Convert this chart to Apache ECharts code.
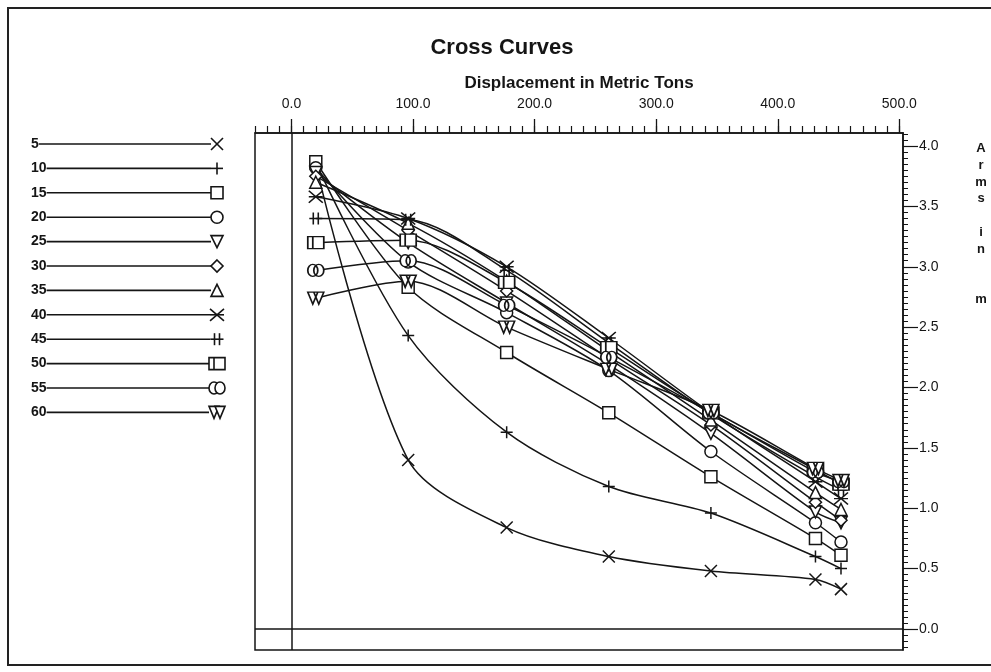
<!DOCTYPE html>
<html><head><meta charset="utf-8">
<script src="https://cdn.jsdelivr.net/npm/echarts@6/dist/echarts.min.js"></script>
<style>html,body{margin:0;padding:0;background:#fff}#c{width:991px;height:672px}</style>
</head><body><div id="c"></div>
<script>
// ---- data ----
const displacement = [20, 96, 177, 261, 345, 431, 452];
const angleNames = ['5','10','15','20','25','30','35','40','45','50','55','60'];
const arm5  = [3.85, 1.40, 0.84, 0.60, 0.48, 0.41, 0.33];
const arm10 = [3.86, 2.43, 1.63, 1.18, 0.96, 0.60, 0.50];
const arm15 = [3.87, 2.83, 2.29, 1.79, 1.26, 0.75, 0.61];
const arm20 = [3.82, 3.04, 2.62, 2.14, 1.47, 0.88, 0.72];
const arm25 = [3.78, 3.20, 2.70, 2.19, 1.62, 0.97, 0.88];
const arm30 = [3.75, 3.30, 2.80, 2.24, 1.69, 1.05, 0.90];
const arm35 = [3.70, 3.36, 2.88, 2.30, 1.73, 1.13, 0.99];
const arm40 = [3.58, 3.40, 3.00, 2.41, 1.79, 1.22, 1.08];
const arm45 = [3.40, 3.39, 2.97, 2.37, 1.78, 1.26, 1.15];
const arm50 = [3.20, 3.22, 2.87, 2.33, 1.79, 1.32, 1.20];
const arm55 = [2.97, 3.05, 2.68, 2.25, 1.79, 1.30, 1.22];
const arm60 = [2.74, 2.88, 2.50, 2.15, 1.81, 1.33, 1.23];
const xTickLabels = [0, 100, 200, 300, 400, 500];
const yTickLabels = [0, 0.5, 1.0, 1.5, 2.0, 2.5, 3.0, 3.5, 4.0];

const arms = [arm5, arm10, arm15, arm20, arm25, arm30, arm35, arm40, arm45, arm50, arm55, arm60];

// ---- marker shapes (style) ----
const shapes = [
  {d:'M0,0L12,12M12,0L0,12', w:12, h:12},
  {d:'M6,0L6,12M0,6L12,6', w:12, h:12},
  {d:'M0,0L12,0L12,12L0,12Z', w:12, h:12},
  {d:'M0,6A6,6,0,1,1,12,6A6,6,0,1,1,0,6Z', w:12, h:12},
  {d:'M0,0L12,0L6,12Z', w:12, h:12},
  {d:'M6,0L12,6L6,12L0,6Z', w:12, h:12},
  {d:'M6,0L12,12L0,12Z', w:12, h:12},
  {d:'M0,0L14,12M14,0L0,12M0,6L14,6', w:14, h:12},
  {d:'M4,0L4,12M9,0L9,12M0,6L13,6', w:13, h:12},
  {d:'M0,0L16,0L16,12L0,12ZM5,0L5,12', w:16, h:12},
  {d:'M0,6A5,6,0,1,1,10,6A5,6,0,1,1,0,6ZM6,6A5,6,0,1,1,16,6A5,6,0,1,1,6,6Z', w:16, h:12},
  {d:'M0,0L10,0L5,12ZM6,0L16,0L11,12Z', w:16, h:12}
];
// same shapes as graphic primitives for the legend (local 0..w, 0..h coords)
const L = (x1,y1,x2,y2) => ({type:'line', shape:{x1,y1,x2,y2}});
const P = pts => ({type:'polygon', shape:{points: pts}});
const E = (cx,cy,rx,ry) => ({type:'ellipse', shape:{cx,cy,rx,ry}});
const legendPrims = [
  [L(0,0,12,12), L(12,0,0,12)],
  [L(6,0,6,12), L(0,6,12,6)],
  [P([[0,0],[12,0],[12,12],[0,12]])],
  [E(6,6,6,6)],
  [P([[0,0],[12,0],[6,12]])],
  [P([[6,0],[12,6],[6,12],[0,6]])],
  [P([[6,0],[12,12],[0,12]])],
  [L(0,0,14,12), L(14,0,0,12), L(0,6,14,6)],
  [L(4,0,4,12), L(9,0,9,12), L(0,6,13,6)],
  [P([[0,0],[16,0],[16,12],[0,12]]), L(5,0,5,12)],
  [E(5,6,5,6), E(11,6,5,6)],
  [P([[0,0],[10,0],[5,12]]), P([[6,0],[16,0],[11,12]])]
];

const FONT = 'Liberation Sans, Arial, sans-serif';
const INK = '#151515';

const series = angleNames.map((name, i) => {
  const s = {
    name: name, type: 'line', xAxisIndex: 0, yAxisIndex: 0,
    data: displacement.map((x, j) => [x, arms[i][j]]),
    smooth: 0.3,
    symbol: 'path://' + shapes[i].d,
    symbolSize: [shapes[i].w, shapes[i].h],
    showAllSymbol: true,
    lineStyle: {color: INK, width: 1.5},
    itemStyle: {color: '#fff', borderColor: INK, borderWidth: 1.5},
    emphasis: {disabled: true},
    silent: true,
    z: 3
  };
  if (i === 0) {
    s.markLine = {
      silent: true, symbol: ['none', 'none'], label: {show: false},
      lineStyle: {color: INK, width: 1.5, type: 'solid'},
      emphasis: {disabled: true},
      data: [{xAxis: 0}, {yAxis: 0}]
    };
  }
  return s;
});

// tick positions
const xMinor = []; for (let k = -3; k <= 50; k++) xMinor.push(k * 10);
const yMinor = []; for (let k = -3; k <= 82; k++) yMinor.push(Math.round(k * 5) / 100);

// legend graphics
const LEG_FONT = 'bold 14px ' + FONT;
const mctx = document.createElement('canvas').getContext('2d');
mctx.font = LEG_FONT;
const graphic = [
  {type: 'rect', shape: {x: 8, y: 8, width: 990, height: 657}, style: {fill: 'none', stroke: '#222', lineWidth: 2}, silent: true},
  {type: 'text', x: 981, y: 140, style: {text: 'A\nr\nm\ns\n\ni\nn\n\n\nm', font: 'bold 13px ' + FONT, fill: INK, lineHeight: 16.8, align: 'center', verticalAlign: 'top'}, silent: true}
];
angleNames.forEach((name, i) => {
  const y = 144 + i * 24.4;
  const tw = mctx.measureText(name).width;
  const sh = shapes[i];
  const cx = 217;
  graphic.push({type: 'text', x: 31, y: y, style: {text: name, font: LEG_FONT, fill: INK, verticalAlign: 'middle', align: 'left'}, silent: true});
  graphic.push({type: 'line', shape: {x1: 31 + tw, y1: y, x2: cx - sh.w / 2, y2: y}, style: {stroke: INK, lineWidth: 1.6}, silent: true});
  graphic.push({
    type: 'group', x: cx - sh.w / 2, y: y - sh.h / 2, silent: true,
    children: legendPrims[i].map(p => Object.assign({}, p, {style: {fill: '#fff', stroke: INK, lineWidth: 1.6}, silent: true}))
  });
});

const chart = echarts.init(document.getElementById('c'), null, {renderer: 'canvas'});
chart.setOption({
  animation: false,
  backgroundColor: '#fff',
  title: {
    text: 'Cross Curves', left: 497, top: 32, textAlign: 'center',
    textStyle: {fontFamily: FONT, fontSize: 22, fontWeight: 'bold', color: INK}
  },
  grid: {left: 255, right: 88, top: 133, bottom: 22, show: true, borderColor: INK, borderWidth: 1.5, backgroundColor: 'transparent'},
  xAxis: [
    {
      type: 'value', position: 'top', min: -30, max: 503,
      axisLine: {show: true, onZero: false, lineStyle: {color: INK, width: 1.5}},
      axisTick: {show: true, customValues: xMinor, length: 7, lineStyle: {color: INK, width: 1.2}},
      axisLabel: {show: false}, splitLine: {show: false}
    },
    {
      type: 'value', position: 'top', min: -30, max: 503,
      name: 'Displacement in Metric Tons', nameLocation: 'middle', nameGap: 34,
      nameTextStyle: {fontFamily: FONT, fontSize: 17, fontWeight: 'bold', color: INK},
      axisLine: {show: false, onZero: false},
      axisTick: {show: true, customValues: xTickLabels, length: 14, lineStyle: {color: INK, width: 1.3}},
      axisLabel: {show: true, customValues: xTickLabels, margin: 22, formatter: v => v.toFixed(1), fontFamily: FONT, fontSize: 14, color: INK},
      splitLine: {show: false}
    }
  ],
  yAxis: [
    {
      type: 'value', position: 'right', min: -0.174, max: 4.108,
      axisLine: {show: true, onZero: false, lineStyle: {color: INK, width: 1.5}},
      axisTick: {show: true, customValues: yMinor, length: 5, lineStyle: {color: INK, width: 1}},
      axisLabel: {show: false}, splitLine: {show: false}
    },
    {
      type: 'value', position: 'right', min: -0.174, max: 4.108,
      axisLine: {show: false, onZero: false},
      axisTick: {show: true, customValues: yTickLabels, length: 15, lineStyle: {color: INK, width: 1.2}},
      axisLabel: {show: true, customValues: yTickLabels, margin: 16, formatter: v => v.toFixed(1), fontFamily: FONT, fontSize: 14, color: INK},
      splitLine: {show: false}
    }
  ],
  graphic: graphic,
  series: series
});
</script>
</body></html>
